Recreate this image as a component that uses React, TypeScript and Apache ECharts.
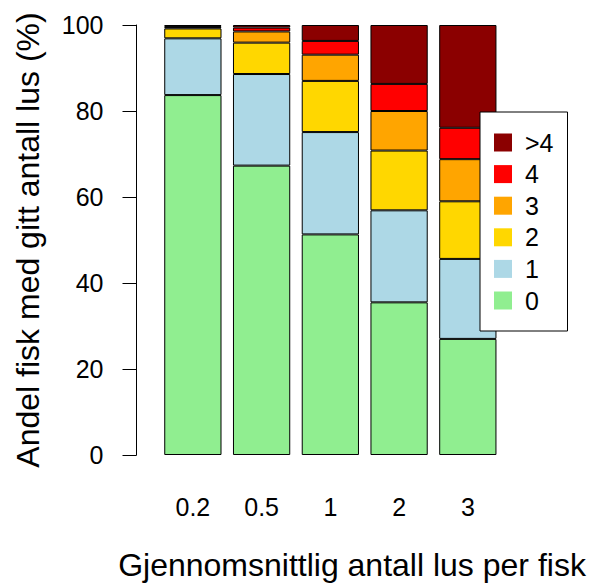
import React, { useEffect, useRef } from "react";
import * as echarts from "echarts";

const categories = ["0.2", "0.5", "1", "2", "3"];
const lice0 = [83.7, 67.3, 51.3, 35.5, 27.0];
const lice1 = [13.2, 21.3, 23.8, 21.4, 18.6];
const lice2 = [2.3, 7.3, 11.9, 13.9, 13.4];
const lice3 = [0.3, 2.6, 6.1, 9.2, 9.8];
const lice4 = [0.2, 0.9, 3.2, 6.3, 7.3];
const liceGt4 = [0.3, 0.6, 3.7, 13.7, 23.9];
const legendOrder = [">4", "4", "3", "2", "1", "0"];
const yTicks = [0, 20, 40, 60, 80, 100];

const FONT = "Liberation Sans, Arial, sans-serif";

export default function App() {
  const ref = useRef<HTMLDivElement>(null);
  useEffect(() => {
    document.body.style.margin = "0";
    if (!ref.current) return;
    const chart = echarts.init(ref.current, undefined, { renderer: "svg" });
    const seriesDefs = [
      { name: "0", data: lice0, color: "#90EE90" },
      { name: "1", data: lice1, color: "#ADD8E6" },
      { name: "2", data: lice2, color: "#FFD700" },
      { name: "3", data: lice3, color: "#FFA500" },
      { name: "4", data: lice4, color: "#FF0000" },
      { name: ">4", data: liceGt4, color: "#8B0000" },
    ];
    chart.setOption({
      animation: false,
      backgroundColor: "#fff",
      textStyle: { fontFamily: FONT },
      grid: { left: 158.5, right: 88.8, top: 25, bottom: 128, containLabel: false },
      xAxis: {
        type: "category",
        data: categories,
        axisLine: { show: false },
        axisTick: { show: false },
        axisLabel: { fontSize: 25, color: "#000", margin: 39, fontFamily: FONT },
      },
      yAxis: {
        type: "value",
        min: yTicks[0],
        max: yTicks[yTicks.length - 1],
        interval: 20,
        offset: 22,
        axisLine: { show: true, lineStyle: { color: "#000", width: 1 } },
        axisTick: { show: true, length: 14, lineStyle: { color: "#000", width: 1 } },
        splitLine: { show: false },
        axisLabel: { fontSize: 25, color: "#000", margin: 33, fontFamily: FONT },
      },
      legend: {
        orient: "vertical",
        left: 480,
        top: 112,
        data: legendOrder,
        icon: "rect",
        itemWidth: 18,
        itemHeight: 18,
        itemGap: 6.6,
        padding: [18, 14, 18, 14],
        borderColor: "#000",
        borderWidth: 1,
        backgroundColor: "#fff",
        selectedMode: false,
        itemStyle: { borderWidth: 0 },
        textStyle: { fontSize: 25, color: "#000", lineHeight: 25, padding: [0, 0, 0, 8], fontFamily: FONT },
      },
      graphic: [
        {
          type: "text",
          x: 352,
          y: 565,
          style: {
            text: "Gjennomsnittlig antall lus per fisk",
            font: `32px ${FONT}`,
            fill: "#000",
            align: "center",
            verticalAlign: "middle",
          },
        },
        {
          type: "text",
          x: 28,
          y: 240,
          rotation: Math.PI / 2,
          style: {
            text: "Andel fisk med gitt antall lus (%)",
            font: `32px ${FONT}`,
            fill: "#000",
            align: "center",
            verticalAlign: "middle",
          },
        },
      ],
      series: seriesDefs.map((s) => ({
        type: "bar",
        name: s.name,
        stack: "total",
        data: s.data,
        barCategoryGap: "16.7%",
        itemStyle: { color: s.color, borderColor: "#000", borderWidth: 1 },
        emphasis: { disabled: true },
      })),
    });
    return () => chart.dispose();
  }, []);
  return <div ref={ref} style={{ width: 591, height: 583 }} />;
}
